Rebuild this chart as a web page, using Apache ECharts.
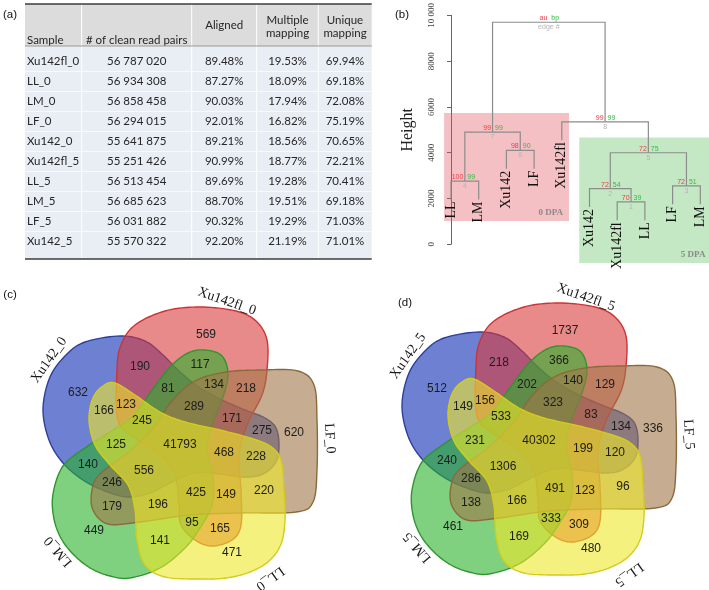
<!DOCTYPE html>
<html><head><meta charset="utf-8">
<script src="https://cdn.jsdelivr.net/npm/echarts@6/dist/echarts.min.js"></script>
<style>html,body{margin:0;padding:0;background:#fff}#chart{width:709px;height:590px}</style>
</head><body><div id="chart"></div>
<script>
// ================= DATA =================
// (a) table
const tableHeaders = ['Sample', '# of clean read pairs', 'Aligned', 'Multiple\nmapping', 'Unique\nmapping'];
const sampleNames = ['Xu142fl_0','LL_0','LM_0','LF_0','Xu142_0','Xu142fl_5','LL_5','LM_5','LF_5','Xu142_5'];
const cleanReadPairs = [56787020,56934308,56858458,56294015,55641875,55251426,56513454,56685623,56031882,55570322];
const alignedPct = [89.48,87.27,90.03,92.01,89.21,90.99,89.69,88.70,90.32,92.20];
const multiplePct = [19.53,18.09,17.94,16.82,18.56,18.77,19.28,19.51,19.29,21.19];
const uniquePct = [69.94,69.18,72.08,75.19,70.65,72.21,70.41,69.18,71.03,71.01];

// (b) dendrogram (leaf order as drawn); merges: negative = leaf (-(i+1)), positive = earlier merge (1-based)
const leafLabels = ['LL','LM','Xu142','LF','Xu142fl','Xu142','Xu142fl','LL','LF','LM'];
const mergeLeft  = [-7, -6, -9, -1, 2, -3, 4, -5, 7];
const mergeRight = [-8,  1, -10, -2, 3, -4, 6, 5, 8];
const mergeHeight = [1850, 2430, 2550, 2760, 4000, 4100, 4900, 5350, 9700];
const auValues = [70, 72, 72, 100, 72, 98, 99, 99, null];
const bpValues = [39, 54, 51, 99, 75, 90, 99, 99, null];
const heightTickLabels = ['0','2000','4000','6000','8000','10 000'];
const clusterNames = ['0 DPA', '5 DPA'];
const clusterLeafRange = [[0, 4], [5, 9]];

// (c)/(d) Venn: sets A..E
const vennNames0 = ['Xu142_0','Xu142fl_0','LF_0','LL_0','LM_0'];
const vennNames5 = ['Xu142_5','Xu142fl_5','LF_5','LL_5','LM_5'];
const regionKeys = ['A','B','C','D','E','AB','BC','CD','DE','AE','BE','AC','BD','CE','AD',
  'BCE','ACD','BDE','ACE','ABD','ABE','ABC','BCD','CDE','ADE','ABCE','ABCD','BCDE','ACDE','ABDE','ABCDE'];
const counts0 = [632,569,620,471,449,190,218,220,141,140,117,275,165,179,166,
  134,228,95,246,123,81,171,149,196,125,289,468,425,556,245,41793];
const counts5 = [512,1737,336,480,461,218,129,96,169,240,366,134,309,138,149,
  140,120,333,286,156,202,83,123,166,231,323,199,491,1306,533,40302];

// ================= LAYOUT / STYLE =================
const TXT = '#262626';
const TBL = {left:25, top:4, headBottom:46, bottom:259, colEdges:[0,56.7,166.7,231.7,293.3,346.7]};
const TBL_FONT = 'Lato';
const SERIF = 'Liberation Serif';
const SANS = 'Liberation Sans';
const DENDRO_HANG = 800;
const CLUSTER_BOX = [
  {x0:-0.25, x1:4.26, y0:1015, y1:5740, fill:'rgba(226,80,92,0.36)'},
  {x0:4.63, x1:9.4, y0:-816, y1:4667, fill:'rgba(60,180,60,0.30)'}
];
// Venn shape templates (local px units around the diagram centre, y down), sets A..E
const SHAPES = [
  [[-110,-94],[-91,-107],[-56,-113],[-31,-108],[-13,-94],[4,-77],[24,-61],[46,-49],[69,-39],[89,-31],[100,-21],[103,-4],[100,13],[87,25],[69,28],[44,25],[19,24],[-6,34],[-26,44],[-48,48],[-71,42],[-93,31],[-113,14],[-127,-9],[-133,-40],[-126,-72]],
  [[-59,-79],[-55,-104],[-41,-124],[-11,-138],[24,-142],[60,-138],[80,-128],[91,-109],[91,-79],[86,-54],[71,-24],[63,6],[65,41],[65,76],[56,91],[36,97],[19,91],[5,76],[3,56],[-1,26],[-16,6],[-41,-11],[-58,-29]],
  [[50,-77],[86,-79],[122,-78],[138,-64],[141,-29],[141,21],[137,53],[120,63],[64,64],[14,66],[-36,73],[-68,75],[-83,61],[-84,41],[-76,25],[-46,2],[-21,-23],[-4,-48],[19,-68]],
  [[-73,-63],[-61,-66],[-41,-54],[-16,-37],[9,-27],[44,-19],[74,-11],[94,-3],[105,11],[108,41],[109,71],[105,95],[93,112],[74,123],[50,129],[24,130],[-11,128],[-31,116],[-39,91],[-41,61],[-48,36],[-66,16],[-81,-4],[-87,-29],[-83,-51]],
  [[29,-99],[46,-93],[52,-74],[46,-49],[36,-24],[31,1],[37,29],[36,56],[24,79],[9,99],[-16,119],[-46,129],[-66,127],[-84,120],[-100,108],[-114,91],[-122,70],[-123,45],[-113,17],[-91,-1],[-66,-17],[-44,-32],[-26,-56],[-6,-82],[12,-96]]
];
const SHAPE_STYLE = [
  {fill:'rgba(14,44,178,0.6)', stroke:'#2c3f9c'},
  {fill:'rgba(216,58,60,0.6)', stroke:'#cc3436'},
  {fill:'rgba(160,118,72,0.6)', stroke:'#8a6a3c'},
  {fill:'rgba(238,232,40,0.6)', stroke:'#d2cc1c'},
  {fill:'rgba(42,176,42,0.6)', stroke:'#2f962f'}
];
const DRAW_ORDER = [0, 1, 4, 2, 3];
const SET_LABEL_POS = [[-145,155],[-71,156],[-4,154],[54,160],[139,156]]; // [angle deg, radius]

// ================= GEOMETRY HELPERS =================
function catmull(pts, n) {
  const out = [], L = pts.length;
  for (let i = 0; i < L; i++) {
    const p0 = pts[(i-1+L)%L], p1 = pts[i], p2 = pts[(i+1)%L], p3 = pts[(i+2)%L];
    for (let s = 0; s < n; s++) {
      const t = s/n, t2 = t*t, t3 = t2*t;
      const f = k => 0.5*((2*p1[k]) + (-p0[k]+p2[k])*t + (2*p0[k]-5*p1[k]+4*p2[k]-p3[k])*t2 + (-p0[k]+3*p1[k]-3*p2[k]+p3[k])*t3);
      out.push([f(0), f(1)]);
    }
  }
  return out;
}
const SMOOTH = SHAPES.map(p => catmull(p, 10));
function inPoly(poly, x, y) {
  let c = false;
  for (let i = 0, j = poly.length-1; i < poly.length; j = i++) {
    const xi = poly[i][0], yi = poly[i][1], xj = poly[j][0], yj = poly[j][1];
    if (((yi > y) !== (yj > y)) && (x < (xj-xi)*(y-yi)/(yj-yi) + xi)) c = !c;
  }
  return c;
}
function distPoly(poly, x, y) {
  let best = Infinity;
  for (let i = 0, j = poly.length-1; i < poly.length; j = i++) {
    const ax = poly[j][0], ay = poly[j][1], dx = poly[i][0]-ax, dy = poly[i][1]-ay;
    const l2 = dx*dx + dy*dy;
    let t = l2 ? ((x-ax)*dx + (y-ay)*dy)/l2 : 0;
    t = Math.max(0, Math.min(1, t));
    const ex = ax + t*dx - x, ey = ay + t*dy - y, d = ex*ex + ey*ey;
    if (d < best) best = d;
  }
  return Math.sqrt(best);
}
// label anchor of each region: a well-inside sample point closest to the region's centroid
const samples = [], stats = {};
for (let y = -150; y <= 140; y += 2) {
  for (let x = -140; x <= 145; x += 2) {
    let mask = 0;
    for (let k = 0; k < 5; k++) if (inPoly(SMOOTH[k], x, y)) mask |= (1 << k);
    if (!mask) continue;
    let d = Infinity;
    for (let k = 0; k < 5; k++) d = Math.min(d, distPoly(SMOOTH[k], x, y));
    samples.push([x, y, mask, d]);
    const s = stats[mask] || (stats[mask] = {sx:0, sy:0, n:0, dmax:0});
    s.sx += x; s.sy += y; s.n++; if (d > s.dmax) s.dmax = d;
  }
}
const anchors = {};
samples.forEach(([x, y, m, d]) => {
  const s = stats[m];
  if (d < 0.5*s.dmax) return;
  const cx = s.sx/s.n, cy = s.sy/s.n, g = (x-cx)*(x-cx) + (y-cy)*(y-cy);
  if (!anchors[m] || g < anchors[m].g) anchors[m] = {x, y, g};
});
function keyMask(key) { let m = 0; for (const ch of key) m |= 1 << ('ABCDE'.indexOf(ch)); return m; }
function regionLabels(counts) {
  const out = [];
  regionKeys.forEach((k, i) => { const p = anchors[keyMask(k)]; if (p) out.push([p.x, p.y, counts[i]]); });
  return out;
}
const setLabelData = SET_LABEL_POS.map(([a, r]) => {
  const rad = a*Math.PI/180;
  return [r*Math.cos(rad), r*Math.sin(rad), -a - 90];
});

// ================= DENDROGRAM GEOMETRY =================
const mergeX = [];
function childX(c) { return c < 0 ? (-c-1) : mergeX[c-1]; }
mergeHeight.forEach((h, j) => { mergeX[j] = (childX(mergeLeft[j]) + childX(mergeRight[j]))/2; });
const leafBottom = [];
mergeHeight.forEach((h, j) => {
  [mergeLeft[j], mergeRight[j]].forEach(c => { if (c < 0) leafBottom[-c-1] = h - DENDRO_HANG; });
});
function childBottom(c) { return c < 0 ? leafBottom[-c-1] : mergeHeight[c-1]; }

// ================= FORMATTERS =================
const fmtInt = v => String(v).replace(/\B(?=(\d{3})+(?!\d))/g, ' ');
const fmtPct = v => v.toFixed(2) + '%';

// ================= CHART =================
const chart = echarts.init(document.getElementById('chart'), null, {renderer:'canvas'});

const headerGraphics = [];
const tw = TBL.colEdges[5];
headerGraphics.push({type:'rect', shape:{x:TBL.left, y:TBL.top, width:tw, height:TBL.headBottom-TBL.top}, style:{fill:'#dcdcdc'}, z:1});
for (let c = 1; c < 5; c++) {
  headerGraphics.push({type:'line', shape:{x1:TBL.left+TBL.colEdges[c], y1:TBL.top, x2:TBL.left+TBL.colEdges[c], y2:TBL.headBottom}, style:{stroke:'#fff', lineWidth:1}, z:2});
}
const headerPos = [[TBL.left+2, 40, 'left'], [null, 40, 'center'], [null, 25, 'center'], [null, 27, 'center'], [null, 27, 'center']];
tableHeaders.forEach((t, c) => {
  const hp = headerPos[c];
  const x = hp[0] !== null ? hp[0] : TBL.left + (TBL.colEdges[c] + TBL.colEdges[c+1])/2;
  headerGraphics.push({type:'text', x, y:hp[1], style:{text:t, fill:TXT, font:'11.5px ' + TBL_FONT, align:hp[2], verticalAlign:'middle', lineHeight:13.5}, z:3});
});
headerGraphics.push({type:'line', shape:{x1:TBL.left, y1:TBL.top, x2:TBL.left+tw, y2:TBL.top}, style:{stroke:'#3c3c3c', lineWidth:1.5}, z:5});
headerGraphics.push({type:'line', shape:{x1:TBL.left, y1:TBL.headBottom, x2:TBL.left+tw, y2:TBL.headBottom}, style:{stroke:'#9a9a9a', lineWidth:1}, z:5});
headerGraphics.push({type:'line', shape:{x1:TBL.left, y1:TBL.bottom, x2:TBL.left+tw, y2:TBL.bottom}, style:{stroke:'#3c3c3c', lineWidth:1.5}, z:5});
// panel letters
[['(a)', 10, 15], ['(b)', 402, 15], ['(c)', 10, 295], ['(d)', 405, 303]].forEach(([t, x, y]) => {
  headerGraphics.push({type:'text', x, y, style:{text:t, fill:'#111', font:'11.5px ' + SANS, align:'center', verticalAlign:'middle'}, z:10});
});

const option = {
  animation: false,
  backgroundColor: '#fff',
  graphic: headerGraphics,
  grid: [
    {left:TBL.left, top:51.7, width:tw, height:200},
    {left:441, top:11.7, width:268, height:232.6},
    {left:0, top:279, width:360, height:311},
    {left:359, top:275, width:350, height:315}
  ],
  xAxis: [
    {gridIndex:0, type:'value', min:0, max:tw, show:false},
    {gridIndex:1, type:'value', min:-0.361, max:9.314, show:false},
    {gridIndex:2, type:'value', min:-176, max:184, show:false},
    {gridIndex:3, type:'value', min:-176, max:174, show:false}
  ],
  yAxis: [
    {gridIndex:0, type:'category', data:sampleNames, inverse:true, show:false},
    {gridIndex:1, type:'value', min:0, max:10000, interval:2000,
      axisLine:{show:true, lineStyle:{color:'#666', width:1}},
      axisTick:{show:true, length:4, lineStyle:{color:'#666'}},
      splitLine:{show:false},
      axisLabel:{rotate:90, margin:5, color:'#444', fontFamily:SERIF, fontSize:9,
        formatter: v => heightTickLabels[Math.round(v/2000)]},
      name:'Height', nameLocation:'middle', nameGap:25, nameRotate:90,
      nameTextStyle:{fontFamily:SERIF, fontSize:16, color:'#222'}},
    {gridIndex:2, type:'value', min:-170, max:141, inverse:true, show:false},
    {gridIndex:3, type:'value', min:-170, max:145, inverse:true, show:false}
  ],
  series: []
};

// ---- (a) table body ----
option.series.push({
  type:'custom', xAxisIndex:0, yAxisIndex:0, silent:true,
  data: sampleNames.map((n, i) => [0, i]),
  renderItem(params, api) {
    const r = params.dataIndex;
    const yc = api.coord([0, r])[1];
    const band = api.size([0, 1])[1];
    let top = yc - band/2, bot = yc + band/2;
    if (r === 0) top = TBL.headBottom;
    if (r === sampleNames.length-1) bot = TBL.bottom;
    const xs = TBL.colEdges.map(e => api.coord([e, r])[0]);
    const ch = [];
    ch.push({type:'rect', shape:{x:xs[0], y:top, width:xs[5]-xs[0], height:bot-top}, style:{fill:'#e9edf4'}});
    for (let c = 1; c < 5; c++) ch.push({type:'line', shape:{x1:xs[c], y1:top, x2:xs[c], y2:bot}, style:{stroke:'#fff', lineWidth:1}});
    if (r < sampleNames.length-1) ch.push({type:'line', shape:{x1:xs[0], y1:bot, x2:xs[5], y2:bot}, style:{stroke:'#fff', lineWidth:1}});
    const vals = [sampleNames[r], fmtInt(cleanReadPairs[r]), fmtPct(alignedPct[r]), fmtPct(multiplePct[r]), fmtPct(uniquePct[r])];
    vals.forEach((t, c) => {
      const x = c === 0 ? xs[0] + 2 : (xs[c] + xs[c+1])/2;
      ch.push({type:'text', x, y:yc, style:{text:t, fill:TXT, font:'11.5px ' + TBL_FONT, align:c === 0 ? 'left' : 'center', verticalAlign:'middle'}});
    });
    return {type:'group', children:ch};
  }
});

// ---- (b) cluster boxes ----
option.series.push({
  type:'custom', xAxisIndex:1, yAxisIndex:1, silent:true, clip:false, z:1,
  data: clusterNames.map((n, i) => [clusterLeafRange[i][0], clusterLeafRange[i][1]]),
  renderItem(params, api) {
    const b = CLUSTER_BOX[params.dataIndex];
    const p0 = api.coord([b.x0, b.y1]), p1 = api.coord([b.x1, b.y0]);
    return {type:'group', children:[
      {type:'rect', shape:{x:p0[0], y:p0[1], width:p1[0]-p0[0], height:p1[1]-p0[1]}, style:{fill:b.fill}},
      {type:'text', x:p1[0]-6, y:p1[1]-8, style:{text:clusterNames[params.dataIndex], fill:'#8a8a8a', font:'bold 9px ' + SERIF, align:'right', verticalAlign:'middle'}}
    ]};
  }
});
// ---- (b) dendrogram links ----
option.series.push({
  type:'custom', xAxisIndex:1, yAxisIndex:1, silent:true, clip:false, z:2,
  data: mergeHeight.map((h, j) => [mergeX[j], h]),
  renderItem(params, api) {
    const j = params.dataIndex, h = mergeHeight[j];
    const l = mergeLeft[j], r = mergeRight[j];
    const pts = [[childX(l), childBottom(l)], [childX(l), h], [childX(r), h], [childX(r), childBottom(r)]].map(p => api.coord(p));
    const ch = [{type:'polyline', shape:{points:pts}, style:{stroke:'#8c8c8c', lineWidth:1.2, fill:null}}];
    const c = api.coord([mergeX[j], h]);
    const au = auValues[j] === null ? 'au' : String(auValues[j]);
    const bp = bpValues[j] === null ? 'bp' : String(bpValues[j]);
    const ed = auValues[j] === null ? 'edge #' : String(j+1);
    ch.push({type:'text', x:c[0]-1.5, y:c[1]-0.5, style:{text:au, fill:'#ee3b47', font:'7px ' + SANS, align:'right', verticalAlign:'bottom'}});
    ch.push({type:'text', x:c[0]+2.5, y:c[1]-0.5, style:{text:bp, fill:'#33bb44', font:'7px ' + SANS, align:'left', verticalAlign:'bottom'}});
    ch.push({type:'text', x:c[0], y:c[1]+1.5, style:{text:ed, fill:'#b4b4b4', font:'7px ' + SANS, align:'center', verticalAlign:'top'}});
    return {type:'group', children:ch};
  }
});
// ---- (b) leaf labels ----
option.series.push({
  type:'custom', xAxisIndex:1, yAxisIndex:1, silent:true, clip:false, z:3,
  data: leafLabels.map((n, i) => [i, leafBottom[i]]),
  renderItem(params, api) {
    const p = api.coord([api.value(0), api.value(1)]);
    return {type:'text', x:p[0], y:p[1]+2, rotation:Math.PI/2,
      style:{text:leafLabels[params.dataIndex], fill:'#111', font:'14px ' + SERIF, align:'right', verticalAlign:'middle'}};
  }
});

// ---- (c),(d) Venn ----
function addVenn(gi, counts, names) {
  option.series.push({
    type:'custom', xAxisIndex:gi, yAxisIndex:gi, silent:true, clip:false, z:2,
    data: DRAW_ORDER.map(k => [0, 0, k]),
    renderItem(params, api) {
      const k = api.value(2);
      return {type:'polygon', shape:{points:SMOOTH[k].map(p => api.coord(p))},
        style:{fill:SHAPE_STYLE[k].fill, stroke:SHAPE_STYLE[k].stroke, lineWidth:1.4}};
    }
  });
  option.series.push({
    type:'custom', xAxisIndex:gi, yAxisIndex:gi, silent:true, clip:false, z:3,
    data: regionLabels(counts),
    renderItem(params, api) {
      const p = api.coord([api.value(0), api.value(1)]);
      return {type:'text', x:p[0], y:p[1], style:{text:String(api.value(2)), fill:'#1c1c1c', font:'12px ' + SANS, align:'center', verticalAlign:'middle'}};
    }
  });
  option.series.push({
    type:'custom', xAxisIndex:gi, yAxisIndex:gi, silent:true, clip:false, z:3,
    data: setLabelData,
    renderItem(params, api) {
      const p = api.coord([api.value(0), api.value(1)]);
      return {type:'text', x:p[0], y:p[1], rotation:api.value(2)*Math.PI/180,
        style:{text:names[params.dataIndex], fill:'#1a1a1a', font:'14px ' + SERIF, align:'center', verticalAlign:'middle'}};
    }
  });
}
addVenn(2, counts0, vennNames0);
addVenn(3, counts5, vennNames5);

chart.setOption(option);
</script></body></html>
